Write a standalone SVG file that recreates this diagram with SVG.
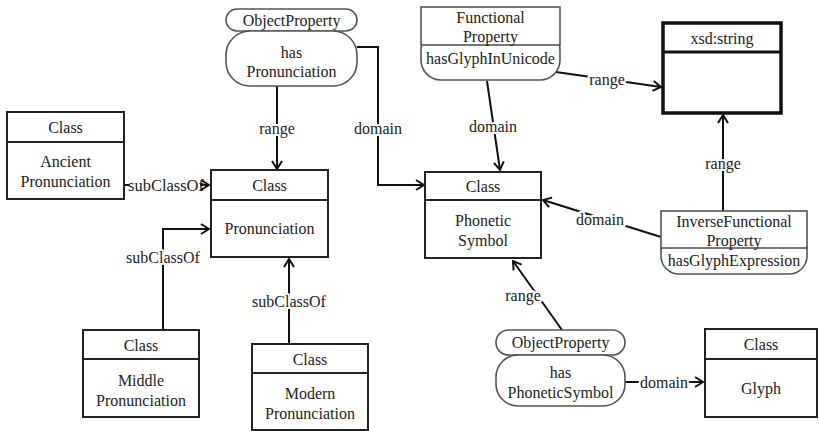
<svg xmlns="http://www.w3.org/2000/svg" width="819" height="431" viewBox="0 0 819 431">
<defs>
<marker id="arr" viewBox="0 0 10 12" refX="9" refY="6" markerWidth="10" markerHeight="12" markerUnits="userSpaceOnUse" orient="auto">
<path d="M1,1 L9,6 L1,11" fill="none" stroke="#111" stroke-width="2"/>
</marker>
<style>
text{font-family:"Liberation Serif",serif;font-size:16px;fill:#222;text-anchor:middle;dominant-baseline:central}
.cls{fill:#fff;stroke:#222;stroke-width:2}
.thick{fill:#fff;stroke:#111;stroke-width:3.5}
.pill{fill:#fff;stroke:#555;stroke-width:1.6}
.prop{fill:#fff;stroke:#555;stroke-width:1.6}
.edge{fill:none;stroke:#111;stroke-width:2;marker-end:url(#arr)}
.line{fill:none;stroke:#111;stroke-width:2}
.lbl{stroke:#fff;stroke-width:4;paint-order:stroke;stroke-linejoin:round}
</style>
</defs>
<rect width="819" height="431" fill="#fff"/>
<g id="connectors">
<path class="edge" d="M277,86 L277,169"/>
<path class="edge" d="M357,47 L378,47 L378,185 L424,185"/>
<path class="line" d="M124,185 L129,185"/>
<path class="edge" d="M200,185 L209,185"/>
<path class="edge" d="M163,330 L163,229 L209,229"/>
<path class="edge" d="M289,344 L289,259"/>
<path class="edge" d="M487,81 L500,170"/>
<path class="edge" d="M556,72 L661,87"/>
<path class="edge" d="M723,211 L723,115"/>
<path class="edge" d="M661,237 L543,200"/>
<path class="edge" d="M562,330 L513,261"/>
<path class="edge" d="M625,382 L703,382"/>
<text class="lbl" x="277" y="128">range</text>
<text class="lbl" x="378" y="128">domain</text>
<text x="166" y="185" textLength="76" lengthAdjust="spacingAndGlyphs">subClassOf</text>
<text class="lbl" x="163" y="257">subClassOf</text>
<text class="lbl" x="289" y="301">subClassOf</text>
<text class="lbl" x="493" y="126">domain</text>
<text class="lbl" x="607" y="79">range</text>
<text class="lbl" x="723" y="163">range</text>
<text class="lbl" x="600" y="219">domain</text>
<text class="lbl" x="523" y="295">range</text>
<text class="lbl" x="664" y="382">domain</text>
</g>
<g id="ancient">
<rect class="cls" x="7" y="112" width="117" height="87"/>
<line x1="7" y1="142" x2="124" y2="142" stroke="#222" stroke-width="2"/>
<text x="65.5" y="127">Class</text>
<text x="65.5" y="161">Ancient</text>
<text x="65.5" y="181">Pronunciation</text>
</g>
<g id="pronunciation">
<rect class="cls" x="211" y="170" width="117" height="87"/>
<line x1="211" y1="200" x2="328" y2="200" stroke="#222" stroke-width="2"/>
<text x="269.5" y="185">Class</text>
<text x="269.5" y="228">Pronunciation</text>
</g>
<g id="hasPronunciation">
<rect class="pill" x="226" y="9" width="131" height="22" rx="11"/>
<rect class="pill" x="226" y="31" width="131" height="55" rx="24"/>
<text x="291.5" y="20">ObjectProperty</text>
<text x="291.5" y="52">has</text>
<text x="291.5" y="71">Pronunciation</text>
</g>
<g id="hasGlyphInUnicode">
<rect class="pill" x="421" y="30" width="139" height="50" rx="20"/>
<rect class="prop" x="421" y="7" width="139" height="38"/>
<text x="490.5" y="17">Functional</text>
<text x="490.5" y="36">Property</text>
<text x="490.5" y="58">hasGlyphInUnicode</text>
</g>
<g id="phoneticSymbol">
<rect class="cls" x="425" y="172" width="116" height="86"/>
<line x1="425" y1="200" x2="541" y2="200" stroke="#222" stroke-width="2"/>
<text x="483" y="186">Class</text>
<text x="483" y="220">Phonetic</text>
<text x="483" y="240">Symbol</text>
</g>
<g id="xsdString">
<rect class="thick" x="663" y="23" width="118" height="90"/>
<line x1="663" y1="52" x2="781" y2="52" stroke="#111" stroke-width="3"/>
<text x="722" y="38">xsd:string</text>
</g>
<g id="hasGlyphExpression">
<rect class="pill" x="661" y="232" width="146" height="42" rx="18"/>
<rect class="prop" x="661" y="211" width="146" height="37"/>
<text x="734" y="221">InverseFunctional</text>
<text x="734" y="240">Property</text>
<text x="734" y="260">hasGlyphExpression</text>
</g>
<g id="hasPhoneticSymbol">
<rect class="pill" x="496" y="330" width="129" height="25" rx="12.5"/>
<rect class="pill" x="496" y="355" width="129" height="51" rx="22"/>
<text x="560.5" y="342">ObjectProperty</text>
<text x="560.5" y="372">has</text>
<text x="560.5" y="392">PhoneticSymbol</text>
</g>
<g id="glyph">
<rect class="cls" x="705" y="329" width="112" height="88"/>
<line x1="705" y1="359" x2="817" y2="359" stroke="#222" stroke-width="2"/>
<text x="761" y="344">Class</text>
<text x="761" y="388">Glyph</text>
</g>
<g id="middle">
<rect class="cls" x="83" y="330" width="116" height="87"/>
<line x1="83" y1="359" x2="199" y2="359" stroke="#222" stroke-width="2"/>
<text x="141" y="345">Class</text>
<text x="141" y="380">Middle</text>
<text x="141" y="400">Pronunciation</text>
</g>
<g id="modern">
<rect class="cls" x="252" y="344" width="116" height="86"/>
<line x1="252" y1="373" x2="368" y2="373" stroke="#222" stroke-width="2"/>
<text x="310" y="359">Class</text>
<text x="310" y="393">Modern</text>
<text x="310" y="413">Pronunciation</text>
</g>
</svg>
